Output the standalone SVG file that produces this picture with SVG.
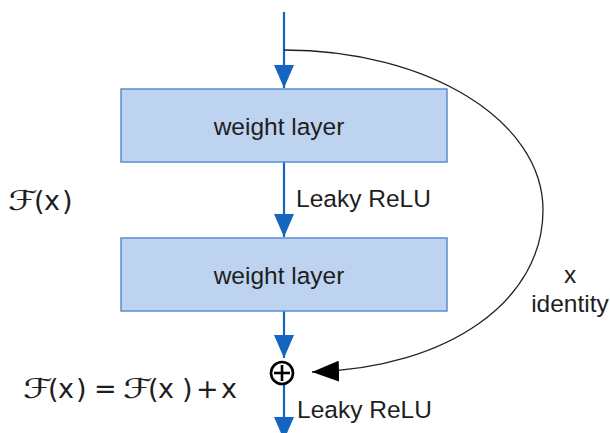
<svg xmlns="http://www.w3.org/2000/svg" width="610" height="433" viewBox="0 0 610 433">
<style>
  text { font-family: "Liberation Sans", "DejaVu Sans", sans-serif; font-size: 24.5px; fill: #1e1e1e; }
  text.math { font-family: "DejaVu Sans", sans-serif; font-size: 27px; }
  text.cal { font-family: "DejaVu Sans", sans-serif; font-size: 27px; }
  .box { fill: #bdd3ef; stroke: #5a8fd4; stroke-width: 1.5; }
  .flow { stroke: #1565c0; stroke-width: 2.2; fill: none; }
  .skip { stroke: #222; stroke-width: 1.3; fill: none; }
</style>
<defs>
  <marker id="blueHead" markerWidth="24" markerHeight="20" refX="23" refY="10" orient="auto" markerUnits="userSpaceOnUse">
    <path d="M0,0 L23,10 L0,20 Z" fill="#1565c0"/>
  </marker>
  <marker id="blackHead" markerWidth="28" markerHeight="21" refX="27" refY="10.5" orient="auto" markerUnits="userSpaceOnUse">
    <path d="M0,0 L27,10.5 L0,21 Z" fill="#000"/>
  </marker>
</defs>
<g id="connectors">
  <line class="flow" x1="284" y1="12" x2="284" y2="88" marker-end="url(#blueHead)"/>
  <line class="flow" x1="284" y1="162" x2="284" y2="237" marker-end="url(#blueHead)"/>
  <line class="flow" x1="284" y1="311" x2="284" y2="358" marker-end="url(#blueHead)"/>
  <line class="flow" x1="284" y1="385" x2="284" y2="440" marker-end="url(#blueHead)"/>
  <path class="skip" d="M284,50 C427,50 543,120 543,210 C543,300 450,368 312,372" marker-end="url(#blackHead)"/>
</g>
<g id="layer1">
  <rect class="box" x="121" y="89" width="326" height="73"/>
  <text x="279" y="135" text-anchor="middle" font-size="25">weight layer</text>
</g>
<g id="layer2">
  <rect class="box" x="121" y="238" width="326" height="73"/>
  <text x="279" y="284" text-anchor="middle" font-size="25">weight layer</text>
</g>
<g id="sum">
  <circle cx="282" cy="373" r="11" fill="none" stroke="#000" stroke-width="2.6"/>
  <line x1="274" y1="373" x2="290" y2="373" stroke="#000" stroke-width="2.6"/>
  <line x1="282" y1="365" x2="282" y2="381" stroke="#000" stroke-width="2.6"/>
</g>
<g id="labels">
  <text x="296" y="207">Leaky ReLU</text>
  <text x="297" y="418">Leaky ReLU</text>
  <text x="570" y="283" text-anchor="middle">x</text>
  <text x="570" y="312" text-anchor="middle">identity</text>
  <text class="cal" transform="translate(8,210) scale(1.4,1)">ℱ</text>
  <text class="math" x="34 44 62" y="210">(x)</text>
  <text class="cal" transform="translate(23,398) scale(1.4,1)">ℱ</text>
  <text class="math" x="48 58 76 94" y="398">(x)=</text>
  <text class="cal" transform="translate(123,398) scale(1.4,1)">ℱ</text>
  <text class="math" x="148 158 182 196 221" y="398">(x)+x</text>
</g>
</svg>
